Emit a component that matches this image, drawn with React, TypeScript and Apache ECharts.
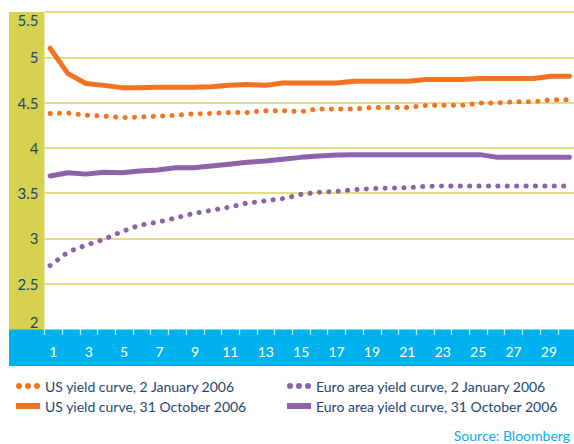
import React, { useEffect, useRef } from "react";
import * as echarts from "echarts";

// Maturity (years) categories
const maturities = [
  1, 2, 3, 4, 5, 6, 7, 8, 9, 10, 11, 12, 13, 14, 15,
  16, 17, 18, 19, 20, 21, 22, 23, 24, 25, 26, 27, 28, 29, 30,
];
const maturityLabels = maturities.map((m) => String(m));

const usJan2006 = [
  4.378, 4.385, 4.36, 4.35, 4.335, 4.34, 4.35, 4.36, 4.375, 4.38,
  4.39, 4.39, 4.41, 4.41, 4.40, 4.43, 4.43, 4.43, 4.445, 4.445,
  4.445, 4.47, 4.47, 4.47, 4.495, 4.495, 4.51, 4.51, 4.53, 4.53,
];
const usOct2006 = [
  5.1, 4.82, 4.71, 4.69, 4.665, 4.665, 4.67, 4.67, 4.67, 4.675,
  4.69, 4.7, 4.69, 4.715, 4.715, 4.715, 4.715, 4.735, 4.735, 4.735,
  4.735, 4.755, 4.755, 4.755, 4.765, 4.765, 4.765, 4.765, 4.79, 4.79,
];
const euroJan2006 = [
  2.7, 2.85, 2.925, 2.99, 3.075, 3.145, 3.18, 3.225, 3.275, 3.31,
  3.345, 3.39, 3.415, 3.44, 3.485, 3.51, 3.52, 3.54, 3.55, 3.555,
  3.56, 3.575, 3.58, 3.58, 3.58, 3.58, 3.58, 3.58, 3.58, 3.58,
];
const euroOct2006 = [
  3.69, 3.725, 3.71, 3.73, 3.725, 3.745, 3.755, 3.78, 3.78, 3.8,
  3.82, 3.84, 3.855, 3.875, 3.895, 3.91, 3.92, 3.925, 3.925, 3.925,
  3.925, 3.925, 3.925, 3.925, 3.925, 3.895, 3.895, 3.895, 3.895, 3.895,
];

const yMin = 2;
const yMax = 5.5;
const yInterval = 0.5;

const seriesNames = [
  "US yield curve, 2 January 2006",
  "US yield curve, 31 October 2006",
  "Euro area yield curve, 2 January 2006",
  "Euro area yield curve, 31 October 2006",
];
const sourceText = "Source: Bloomberg";

const ORANGE = "#f37321";
const PURPLE = "#8d62a9";
const NAVY = "#1d4673";
const YELLOW = "#d5d24f";
const GRID = "#d6d45e";
const BLUE = "#00b1ef";
const FONT = "Lato";

const dotIcon =
  "path://M0,3a3,3 0 1,0 6,0a3,3 0 1,0 -6,0M9,3a3,3 0 1,0 6,0a3,3 0 1,0 -6,0M18,3a3,3 0 1,0 6,0a3,3 0 1,0 -6,0";

const pairs = (vals: number[]) => maturities.map((m, i) => [m, vals[i]]);

export default function App() {
  const ref = useRef<HTMLDivElement>(null);
  useEffect(() => {
    if (!ref.current) return;
    const chart = echarts.init(ref.current, undefined, { renderer: "svg" });
    const dotted = (color: string) => ({
      color,
      width: 5,
      type: [0.1, 9.3],
      cap: "round",
    });
    const solid = (color: string) => ({
      color,
      width: 5,
      type: "solid",
      cap: "round",
      join: "round",
    });
    const mk = (name: string, vals: number[], color: string, isDotted: boolean) => ({
      name,
      type: "line",
      xAxisIndex: 1,
      data: pairs(vals),
      showSymbol: false,
      symbol: "none",
      itemStyle: { color },
      lineStyle: isDotted ? dotted(color) : solid(color),
      z: 3,
    });
    const legendCommon = {
      orient: "vertical",
      top: 373,
      itemGap: 4,
      itemWidth: 24,
      itemHeight: 6,
      itemStyle: { borderWidth: 0 },
      textStyle: { color: NAVY, fontSize: 14, fontFamily: FONT, lineHeight: 16 },
    };
    chart.setOption({
      animation: false,
      textStyle: { fontFamily: FONT },
      grid: { left: 44.5, top: 12, width: 531, height: 317, containLabel: false },
      graphic: [
        {
          type: "rect",
          z: -1,
          shape: { x: 9, y: 12, width: 35.5, height: 318 },
          style: { fill: YELLOW },
        },
        {
          type: "rect",
          z: -1,
          shape: { x: 9, y: 329.5, width: 600, height: 36.5 },
          style: { fill: BLUE },
        },
        {
          type: "text",
          x: 570,
          y: 435.5,
          style: {
            text: sourceText,
            align: "right",
            verticalAlign: "middle",
            fill: BLUE,
            fontSize: 14,
            fontFamily: FONT,
          },
        },
      ],
      legend: [
        {
          ...legendCommon,
          left: 11,
          data: [
            { name: seriesNames[0], icon: dotIcon },
            { name: seriesNames[1], icon: "rect" },
          ],
        },
        {
          ...legendCommon,
          left: 282,
          data: [
            { name: seriesNames[2], icon: dotIcon },
            { name: seriesNames[3], icon: "rect" },
          ],
        },
      ],
      xAxis: [
        {
          type: "category",
          data: maturityLabels,
          boundaryGap: true,
          position: "bottom",
          axisLine: { show: false },
          axisTick: {
            show: true,
            interval: 0,
            length: 6,
            lineStyle: { color: "#c4ecfb", width: 1.3 },
          },
          axisLabel: {
            interval: 1,
            color: "#ffffff",
            fontSize: 14,
            margin: 15,
            fontFamily: FONT,
          },
          splitLine: { show: false },
        },
        {
          type: "value",
          min: 0.69,
          max: 30.34,
          show: false,
          splitLine: { show: false },
        },
      ],
      yAxis: {
        type: "value",
        min: yMin,
        max: yMax,
        interval: yInterval,
        axisLine: { show: false },
        axisTick: { show: false },
        axisLabel: {
          color: NAVY,
          fontSize: 15,
          margin: 6,
          fontFamily: FONT,
          verticalAlignMinLabel: "bottom",
          verticalAlignMaxLabel: "top",
        },
        splitLine: {
          show: true,
          showMinLine: false,
          lineStyle: { color: GRID, width: 1.5 },
        },
      },
      series: [
        mk(seriesNames[0], usJan2006, ORANGE, true),
        mk(seriesNames[1], usOct2006, ORANGE, false),
        mk(seriesNames[2], euroJan2006, PURPLE, true),
        mk(seriesNames[3], euroOct2006, PURPLE, false),
      ],
    });
    return () => chart.dispose();
  }, []);
  return (
    <div
      style={{
        position: "absolute",
        left: 0,
        top: 0,
        width: 574,
        height: 444,
        overflow: "hidden",
        background: "#fff",
      }}
    >
      <div ref={ref} style={{ width: 600, height: 444 }} />
    </div>
  );
}
